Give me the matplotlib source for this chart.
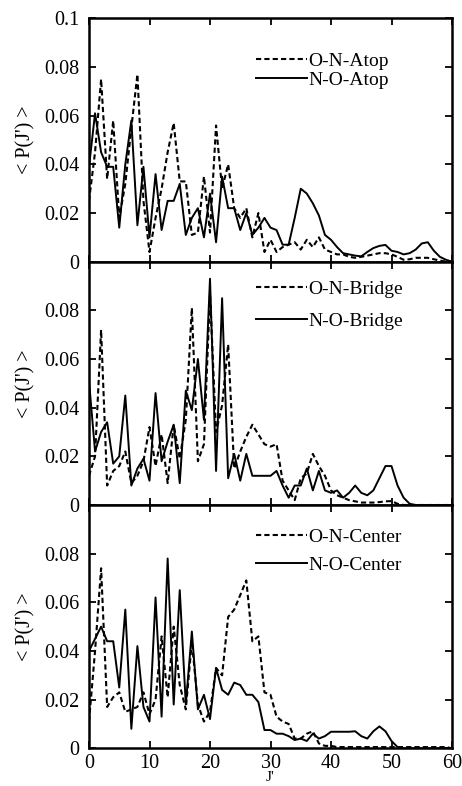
#!/usr/bin/env python3
"""Rotational state distributions <P(J')> for NO scattering, three sites."""

import matplotlib

matplotlib.use("Agg")

import matplotlib.pyplot as plt

plt.rcParams["font.family"] = ["Liberation Serif", "DejaVu Serif"]

# J' grid shared by all series
J = list(range(0, 61))

# top panel: atop site
on_atop = [
    0.025, 0.045, 0.075, 0.034, 0.058, 0.018, 0.032, 0.055, 0.077, 0.025,
    0.004, 0.018, 0.030, 0.045, 0.057, 0.033, 0.033, 0.011, 0.012, 0.035,
    0.012, 0.056, 0.030, 0.040, 0.022, 0.018, 0.022, 0.010, 0.020, 0.004,
    0.009, 0.004, 0.006, 0.007, 0.008, 0.005, 0.009, 0.006, 0.010, 0.005,
    0.004, 0.003, 0.003, 0.002, 0.0016, 0.002, 0.0025, 0.003, 0.0035, 0.0035,
    0.003, 0.002, 0.0008, 0.001, 0.0016, 0.0016, 0.0016, 0.001, 0.0005, 0.0,
    0.0,
]
no_atop = [
    0.039, 0.061, 0.045, 0.039, 0.039, 0.014, 0.040, 0.058, 0.015, 0.039,
    0.010, 0.036, 0.013, 0.025, 0.025, 0.032, 0.011, 0.018, 0.022, 0.010,
    0.028, 0.008, 0.035, 0.022, 0.022, 0.013, 0.020, 0.011, 0.014, 0.018,
    0.014, 0.013, 0.007, 0.007, 0.018, 0.030, 0.028, 0.024, 0.019, 0.011,
    0.009, 0.006, 0.0035, 0.003, 0.0025, 0.0022, 0.004, 0.0056, 0.0065, 0.0069,
    0.0045, 0.004, 0.003, 0.0035, 0.005, 0.0075, 0.008, 0.0045, 0.002, 0.0008,
    0.0,
]

# middle panel: bridge site
on_bridge = [
    0.012, 0.020, 0.072, 0.008, 0.014, 0.016, 0.022, 0.009, 0.012, 0.018,
    0.032, 0.016, 0.029, 0.009, 0.033, 0.019, 0.035, 0.081, 0.018, 0.025,
    0.087, 0.030, 0.041, 0.066, 0.015, 0.022, 0.028, 0.033, 0.029, 0.025,
    0.024, 0.025, 0.010, 0.006, 0.002, 0.011, 0.013, 0.021, 0.016, 0.012,
    0.006, 0.004, 0.003, 0.002, 0.0015, 0.001, 0.001, 0.001, 0.0012, 0.0015,
    0.0016, 0.0005, 0.0, 0.0, 0.0, 0.0, 0.0, 0.0, 0.0, 0.0,
    0.0,
]
no_bridge = [
    0.051, 0.022, 0.030, 0.034, 0.017, 0.020, 0.045, 0.008, 0.015, 0.019,
    0.010, 0.046, 0.018, 0.026, 0.033, 0.009, 0.047, 0.039, 0.060, 0.035,
    0.093, 0.014, 0.085, 0.011, 0.021, 0.010, 0.021, 0.012, 0.012, 0.012,
    0.012, 0.014, 0.008, 0.003, 0.008, 0.008, 0.015, 0.006, 0.014, 0.006,
    0.005, 0.006, 0.003, 0.005, 0.008, 0.005, 0.004, 0.006, 0.011, 0.016,
    0.016, 0.008, 0.003, 0.0005, 0.0, 0.0, 0.0, 0.0, 0.0, 0.0,
    0.0,
]

# bottom panel: center site
on_center = [
    0.011, 0.040, 0.074, 0.017, 0.021, 0.023, 0.015, 0.016, 0.017, 0.023,
    0.014, 0.020, 0.046, 0.021, 0.050, 0.026, 0.016, 0.044, 0.018, 0.011,
    0.015, 0.033, 0.030, 0.054, 0.057, 0.063, 0.069, 0.044, 0.046, 0.023,
    0.022, 0.013, 0.011, 0.010, 0.004, 0.004, 0.006, 0.007, 0.002, 0.001,
    0.001, 0.0005, 0.0005, 0.0005, 0.0005, 0.0005, 0.0005, 0.0005, 0.0005, 0.0005,
    0.0005, 0.0005, 0.0005, 0.0005, 0.0005, 0.0005, 0.0005, 0.0005, 0.0005, 0.0005,
    0.0,
]
no_center = [
    0.040, 0.045, 0.050, 0.044, 0.044, 0.025, 0.057, 0.008, 0.042, 0.017,
    0.011, 0.062, 0.013, 0.078, 0.018, 0.065, 0.018, 0.048, 0.016, 0.022,
    0.012, 0.033, 0.024, 0.022, 0.027, 0.026, 0.022, 0.022, 0.019, 0.0075,
    0.0075, 0.006, 0.006, 0.005, 0.0034, 0.004, 0.003, 0.006, 0.004, 0.005,
    0.0068, 0.0068, 0.0068, 0.0068, 0.007, 0.005, 0.004, 0.007, 0.009, 0.007,
    0.003, 0.0005, 0.0, 0.0, 0.0, 0.0, 0.0, 0.0, 0.0, 0.0,
    0.0,
]

# (dashed, solid, dashed label, solid label, legend top, legend row spacing)
PANELS = [
    (on_atop, no_atop, "O-N-Atop", "N-O-Atop", 0.86, 0.05),
    (on_bridge, no_bridge, "O-N-Bridge", "N-O-Bridge", 0.925, 0.75),
    (on_center, no_center, "O-N-Center", "N-O-Center", 0.905, 0.55),
]

YTICKS = [0.0, 0.02, 0.04, 0.06, 0.08, 0.1]


def main() -> None:
    fig = plt.figure(figsize=(4.62, 7.86), dpi=100)
    left, width = 89 / 462, 363 / 462
    panel_h = 243.3 / 786
    bottom0 = 1 - 748.3 / 786
    fs = 14.5
    for k, (dashed, solid, lab_d, lab_s, leg_y, spacing) in enumerate(PANELS):
        bottom = bottom0 + (2 - k) * panel_h
        ax = fig.add_axes([left, bottom, width, panel_h])
        ax.plot(J, dashed, color="black", linestyle=(0, (2.5, 1.5)), linewidth=1.5, label=lab_d)
        ax.plot(J, solid, color="black", linestyle="-", linewidth=1.4, label=lab_s)
        ax.set_xlim(0, 60)
        ax.set_ylim(0, 0.1)
        ax.set_xticks([0, 10, 20, 30, 40, 50, 60])
        ax.set_yticks(YTICKS)
        labels = ["0", "0.02", "0.04", "0.06", "0.08", "0.1" if k == 0 else ""]
        ax.set_yticklabels(labels)
        ax.tick_params(direction="in", top=True, right=True, length=5, width=1.3,
                       labelsize=fs, pad=7)
        if k < 2:
            ax.tick_params(labelbottom=False)
        else:
            ax.tick_params(axis="x", pad=4)
            ax.set_xlabel("J'", fontsize=11, labelpad=-1)
        for sp in ax.spines.values():
            sp.set_linewidth(1.8)
        ax.set_ylabel("< P(J') >", fontsize=fs, labelpad=6)
        ax.legend(loc="upper left", bbox_to_anchor=(0.46, leg_y), frameon=False,
                  fontsize=fs - 0.5, handlelength=2.6, handletextpad=0.1,
                  labelspacing=spacing, borderpad=0, borderaxespad=0)
    fig.savefig("out.png", dpi=100)
    plt.close(fig)


if __name__ == "__main__":
    main()
